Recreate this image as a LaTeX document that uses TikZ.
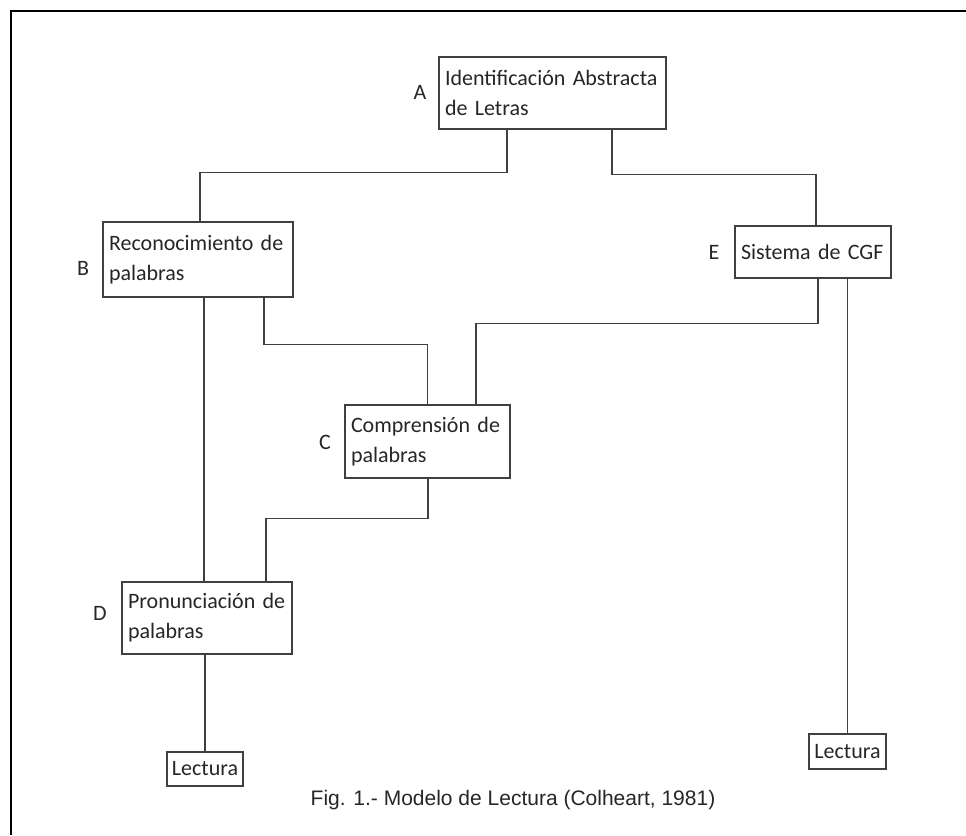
\documentclass[tikz,border=0pt]{standalone}
\usepackage{fontspec}
\setmainfont{Carlito}
\newfontfamily\piefont{Liberation Sans}
\usepackage{tikz}
\usetikzlibrary{positioning}

\begin{document}
\begin{tikzpicture}[x=1pt, y=-1pt,
    caja/.style={draw=black!75, line width=1.3pt, align=left, inner xsep=6pt,
                 font=\fontsize{22}{30}\selectfont, text=black!85},
    letra/.style={font=\fontsize{22}{24}\selectfont, text=black!85},
    linea/.style={draw=black!75, line width=1.3pt},
    marco/.style={draw=black, line width=2.5pt}
  ]
  \useasboundingbox (0,0) rectangle (966,835);
  \draw[marco] (11,835) |- (966,11);

  % cajas del modelo
  \node[caja, text width=215pt, minimum height=72pt] (idA) at (552.5,93)
       {Identificación Abstracta\\de Letras};
  \node[caja, text width=178pt, minimum height=75pt] (recB) at (198,259.5)
       {Reconocimiento de\\palabras};
  \node[caja, text width=144pt, minimum height=52pt] (sisE) at (813,252)
       {Sistema de CGF};
  \node[caja, text width=153pt, minimum height=73pt] (comC) at (427.5,441.5)
       {Comprensión de\\palabras};
  \node[caja, text width=158pt, minimum height=72pt] (proD) at (207,618)
       {Pronunciación de\\palabras};
  \node[caja, inner xsep=3pt, minimum width=76pt, minimum height=34pt] (lecL) at (205,769)
       {Lectura};
  \node[caja, inner xsep=3pt, minimum width=77pt, minimum height=35pt] (lecR) at (847.5,751.5)
       {Lectura};

  % letras
  \node[letra] (labA) at (420,92) {A};
  \node[letra] (labB) at (83,268) {B};
  \node[letra] (labC) at (325,442) {C};
  \node[letra] (labD) at (100,613) {D};
  \node[letra] (labE) at (714,252) {E};

  % conexiones
  \draw[linea] ([xshift=-45.5]idA.south) -- ++(0,43) -| ([xshift=2]recB.north);
  \draw[linea] ([xshift=59.5]idA.south) -- ++(0,45) -| ([xshift=3]sisE.north);
  \draw[linea] ([xshift=6]recB.south) -- ([xshift=6]recB.south |- proD.north);
  \draw[linea] ([xshift=66]recB.south) -- ++(0,47) -| (comC.north);
  \draw[linea] ([xshift=5]sisE.south) -- ++(0,45) -| ([xshift=48.5]comC.north);
  \draw[linea] (lecR.north |- sisE.south) -- (lecR.north);
  \draw[linea] ([xshift=0.5]comC.south) -- ++(0,40) -| ([xshift=59]proD.north);
  \draw[linea] (lecL.north |- proD.south) -- (lecL.north);

  \node[font=\piefont\fontsize{21}{24}\selectfont, text=black!85] (pie) at (513,800)
       {Fig. 1.- Modelo de Lectura (Colheart, 1981)};
\end{tikzpicture}
\end{document}
